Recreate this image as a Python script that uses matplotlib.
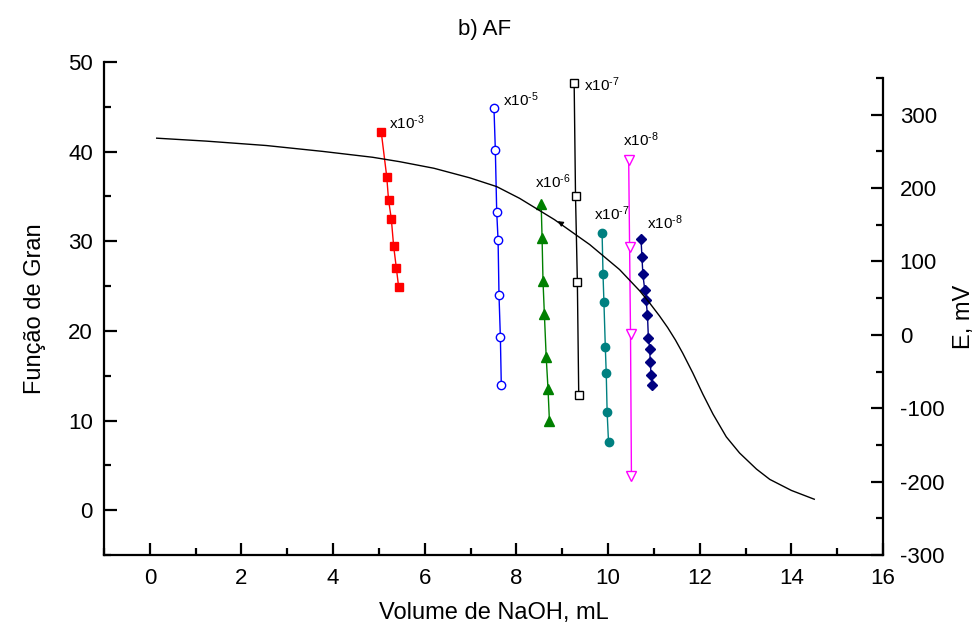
import matplotlib.pyplot as plt
import numpy as np
from matplotlib.ticker import MultipleLocator

plt.rcParams['font.family'] = ['Liberation Sans', 'DejaVu Sans']
plt.rcParams['mathtext.fontset'] = 'custom'
plt.rcParams['mathtext.rm'] = 'Liberation Sans'
plt.rcParams['mathtext.it'] = 'Liberation Sans'
plt.rcParams['axes.unicode_minus'] = False

# Gran function series (left axis)
x_e3 = [5.05, 5.17, 5.21, 5.27, 5.32, 5.38, 5.43]
y_e3 = [42.2, 37.2, 34.6, 32.5, 29.5, 27.0, 24.9]

x_e5 = [7.51, 7.54, 7.57, 7.60, 7.62, 7.65, 7.67]
y_e5 = [44.9, 40.2, 33.3, 30.1, 24.0, 19.3, 14.0]

x_e6 = [8.54, 8.56, 8.58, 8.61, 8.65, 8.69, 8.72]
y_e6 = [34.2, 30.4, 25.6, 21.9, 17.1, 13.5, 10.0]

x_e7a = [9.26, 9.29, 9.33, 9.36]
y_e7a = [47.7, 35.0, 25.5, 12.9]

x_e7b = [9.87, 9.89, 9.91, 9.94, 9.96, 9.98, 10.01]
y_e7b = [30.9, 26.3, 23.2, 18.2, 15.3, 10.9, 7.6]

x_e8a = [10.45, 10.47, 10.49, 10.51]
y_e8a = [39.1, 29.4, 19.7, 3.8]

x_e8b = [10.72, 10.74, 10.76, 10.80, 10.83, 10.86, 10.88, 10.91, 10.92, 10.94, 10.96]
y_e8b = [30.2, 28.2, 26.3, 24.6, 23.4, 21.8, 19.2, 18.0, 16.5, 15.1, 14.0]

# titration curve (right axis)
vol = [0.15, 1.23, 2.54, 3.77, 4.86, 5.45, 6.2, 6.98, 7.57, 8.07, 8.83, 9.6, 10.25,
       10.69, 10.9, 11.12, 11.3, 11.47, 11.63, 11.85, 12.07, 12.29, 12.58, 12.87,
       13.24, 13.53, 14.0, 14.5]
emv = [268, 264, 258, 250, 242, 236, 227, 214, 202, 186, 157, 123, 89,
       60, 44, 26, 10, -7, -25, -52, -81, -108, -139, -161,
       -183, -197, -212, -224]

fig = plt.figure(figsize=(9.74, 6.3), dpi=100)
l, b, w = 104/974, 1 - 555/630, (883 - 104)/974
ax = fig.add_axes([l, b, w, (555 - 62)/630])
ax2 = fig.add_axes([l, b, w, (555 - 78)/630])
ax2.patch.set_visible(False)

ax.set_xlim(-1, 16)
ax.set_ylim(-5, 50)
ax2.set_xlim(-1, 16)
ax2.set_ylim(-300, 350)

for s in ['top', 'right']:
    ax.spines[s].set_visible(False)
for s in ['top', 'left', 'bottom']:
    ax2.spines[s].set_visible(False)
for s in ['left', 'bottom']:
    ax.spines[s].set_linewidth(1.6)
ax2.spines['right'].set_linewidth(1.6)

ax.xaxis.set_major_locator(MultipleLocator(2))
ax.xaxis.set_minor_locator(MultipleLocator(1))
ax.yaxis.set_major_locator(MultipleLocator(10))
ax.yaxis.set_minor_locator(MultipleLocator(5))
ax2.yaxis.set_major_locator(MultipleLocator(100))
ax2.yaxis.set_minor_locator(MultipleLocator(50))
ax2.set_xticks([])
ax2.yaxis.tick_right()
ax2.yaxis.set_label_position('right')

ax.tick_params(which='both', direction='in', labelsize=16, width=1.6, top=False, right=False)
ax.tick_params(which='major', length=9)
ax.tick_params(which='minor', length=5)
ax.tick_params(axis='x', pad=9)
ax.tick_params(axis='y', pad=8)
ax2.tick_params(which='both', direction='in', labelsize=16, width=1.6, pad=12)
ax2.tick_params(which='major', length=9)
ax2.tick_params(which='minor', length=5)

ax2.plot(vol, emv, color='black', lw=1.0)
ax2.annotate('', xy=(8.85, 157), xytext=(9.0, 151),
             arrowprops=dict(arrowstyle='-|>', color='black', lw=0.8, mutation_scale=8))

ms = 6
ax.plot(x_e3, y_e3, '-s', color='#ff0000', mfc='#ff0000', mec='#ff0000', ms=ms, lw=1)
ax.plot(x_e5, y_e5, '-o', color='#0000ff', mfc='white', mec='#0000ff', ms=ms, lw=1)
ax.plot(x_e6, y_e6, '-^', color='#008000', mfc='#008000', mec='#008000', ms=ms + 1, lw=1)
ax.plot(x_e7a, y_e7a, '-s', color='black', mfc='white', mec='black', ms=ms, lw=1)
ax.plot(x_e7b, y_e7b, '-o', color='#008080', mfc='#008080', mec='#008080', ms=ms, lw=1)
ax.plot(x_e8a, y_e8a, '-v', color='#ff00ff', mfc='white', mec='#ff00ff', ms=ms + 1, lw=1)
ax.plot(x_e8b, y_e8b, '-D', color='#000080', mfc='#000080', mec='#000080', ms=ms - 0.5, lw=1)

lab = dict(fontsize=11, ha='left', va='center')
ax.text(5.23, 43.2, 'x10$^{\\text{-3}}$', **lab)
ax.text(7.70, 45.8, 'x10$^{\\text{-5}}$', **lab)
ax.text(8.40, 36.6, 'x10$^{\\text{-6}}$', **lab)
ax.text(9.47, 47.5, 'x10$^{\\text{-7}}$', **lab)
ax.text(9.69, 33.1, 'x10$^{\\text{-7}}$', **lab)
ax.text(10.32, 41.3, 'x10$^{\\text{-8}}$', **lab)
ax.text(10.84, 32.1, 'x10$^{\\text{-8}}$', **lab)

ax.set_xlabel('Volume de NaOH, mL', fontsize=17, labelpad=10)
ax.set_ylabel('Função de Gran', fontsize=17, labelpad=16)
ax2.set_ylabel('E, mV', fontsize=17, labelpad=6)
fig.text(485/974, 1 - 30/630, 'b) AF', fontsize=16, ha='center', va='center')

fig.savefig('out.png', dpi=100)
